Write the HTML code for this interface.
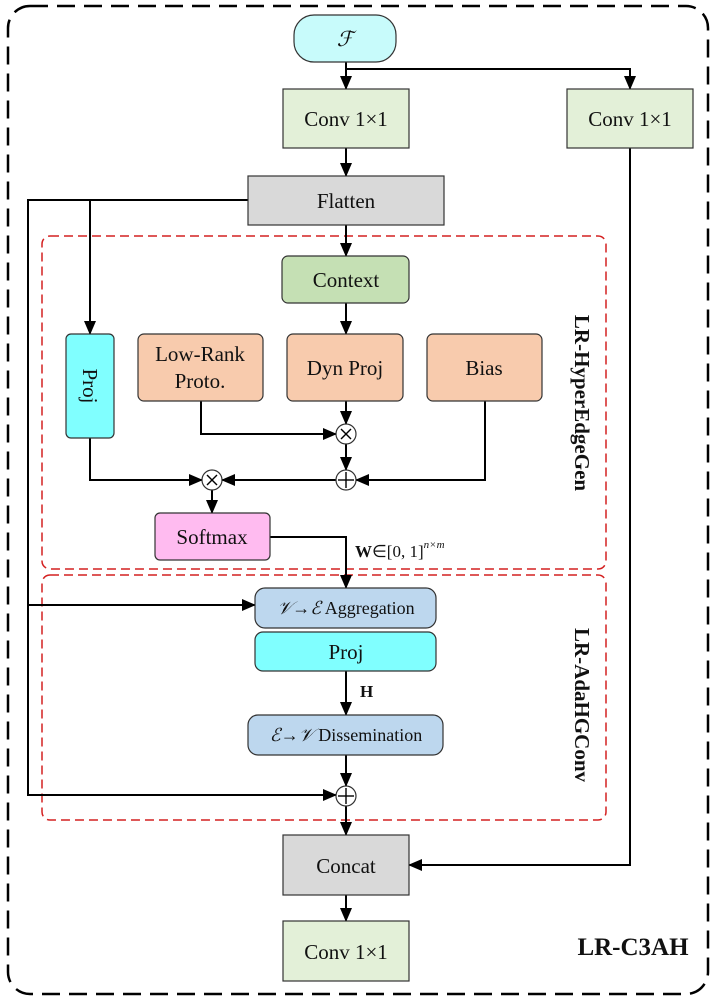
<!DOCTYPE html>
<html><head><meta charset="utf-8"><style>
html,body{margin:0;padding:0;background:#fff;}
svg{display:block;}
text{font-family:"Liberation Serif",serif;fill:#111;}
</style></head><body>
<svg width="715" height="1000" viewBox="0 0 715 1000" xmlns="http://www.w3.org/2000/svg">
<defs>
<marker id="a" markerWidth="14" markerHeight="12" refX="13" refY="6" orient="auto" markerUnits="userSpaceOnUse" viewBox="0 0 14 12">
<path d="M0,0 L14,6 L0,12 z" fill="#000"/></marker>
</defs>
<rect x="8" y="6" width="700" height="988" rx="22" fill="none" stroke="#000" stroke-width="2.5" stroke-dasharray="18,9"/>
<rect x="42" y="236" width="564" height="333" rx="8" fill="none" stroke="#d42020" stroke-width="1.5" stroke-dasharray="9,5"/>
<rect x="42" y="575" width="564" height="245" rx="8" fill="none" stroke="#d42020" stroke-width="1.5" stroke-dasharray="9,5"/>

<g stroke="#000" stroke-width="2" fill="none">
<line x1="346" y1="62" x2="346" y2="89" marker-end="url(#a)"/>
<polyline points="346,69 630,69 630,89" marker-end="url(#a)"/>
<line x1="346" y1="148" x2="346" y2="176" marker-end="url(#a)"/>
<line x1="346" y1="225" x2="346" y2="256" marker-end="url(#a)"/>
<line x1="346" y1="303" x2="346" y2="334" marker-end="url(#a)"/>
<polyline points="248,200 28,200 28,605 255,605" marker-end="url(#a)"/>
<polyline points="28,600 28,795 336,795" marker-end="url(#a)"/>
<line x1="90" y1="200" x2="90" y2="334" marker-end="url(#a)"/>
<line x1="346" y1="401" x2="346" y2="424" marker-end="url(#a)"/>
<polyline points="201,401 201,434 336,434" marker-end="url(#a)"/>
<line x1="346" y1="444" x2="346" y2="470" marker-end="url(#a)"/>
<polyline points="485,401 485,480 356,480" marker-end="url(#a)"/>
<line x1="336" y1="480" x2="222" y2="480" marker-end="url(#a)"/>
<polyline points="90,438 90,480 202,480" marker-end="url(#a)"/>
<line x1="212" y1="490" x2="212" y2="513" marker-end="url(#a)"/>
<polyline points="270,537 346,537 346,588" marker-end="url(#a)"/>
<line x1="346" y1="671" x2="346" y2="715" marker-end="url(#a)"/>
<line x1="346" y1="755" x2="346" y2="786" marker-end="url(#a)"/>
<line x1="346" y1="806" x2="346" y2="835" marker-end="url(#a)"/>
<polyline points="630,148 630,865 409,865" marker-end="url(#a)"/>
<line x1="346" y1="895" x2="346" y2="921" marker-end="url(#a)"/>
</g>

<g stroke="#333" stroke-width="1.2">
<rect x="294" y="15" width="102" height="47" rx="20" fill="#c8fbfb"/>
<rect x="283" y="89" width="126" height="59" fill="#e3f0d8"/>
<rect x="567" y="89" width="126" height="59" fill="#e3f0d8"/>
<rect x="248" y="176" width="196" height="49" fill="#d9d9d9"/>
<rect x="282" y="256" width="127" height="47" rx="6" fill="#c5e0b4"/>
<rect x="66" y="334" width="48" height="104" rx="5" fill="#80ffff"/>
<rect x="138" y="334" width="125" height="67" rx="6" fill="#f8cbad"/>
<rect x="287" y="334" width="116" height="67" rx="6" fill="#f8cbad"/>
<rect x="427" y="334" width="115" height="67" rx="6" fill="#f8cbad"/>
<rect x="155" y="513" width="115" height="47" rx="5" fill="#ffbbf0"/>
<rect x="255" y="588" width="181" height="40" rx="10" fill="#bdd7ee"/>
<rect x="255" y="632" width="181" height="39" rx="8" fill="#80ffff"/>
<rect x="248" y="715" width="195" height="40" rx="10" fill="#bdd7ee"/>
<rect x="283" y="835" width="126" height="60" fill="#d9d9d9"/>
<rect x="283" y="921" width="126" height="60" fill="#e3f0d8"/>
<circle cx="346" cy="434" r="10" fill="#fff"/>
<circle cx="346" cy="480" r="10" fill="#fff"/>
<circle cx="212" cy="480" r="10" fill="#fff"/>
<circle cx="346" cy="796" r="10" fill="#fff"/>
</g>
<g stroke="#000" stroke-width="1.4">
<line x1="341" y1="429" x2="351" y2="439"/><line x1="351" y1="429" x2="341" y2="439"/>
<line x1="207" y1="475" x2="217" y2="485"/><line x1="217" y1="475" x2="207" y2="485"/>
<line x1="338" y1="480" x2="354" y2="480"/><line x1="346" y1="472" x2="346" y2="488"/>
<line x1="338" y1="796" x2="354" y2="796"/><line x1="346" y1="788" x2="346" y2="804"/>
</g>

<g font-size="21" text-anchor="middle">
<text x="345" y="46" font-style="italic" font-size="21">ℱ</text>
<text x="346" y="126">Conv 1×1</text>
<text x="630" y="126">Conv 1×1</text>
<text x="346" y="208">Flatten</text>
<text x="346" y="287">Context</text>
<text x="200" y="361">Low-Rank</text>
<text x="200" y="388">Proto.</text>
<text x="345" y="375">Dyn Proj</text>
<text x="484" y="375">Bias</text>
<text x="212" y="544">Softmax</text>
<text x="346" y="659">Proj</text>
<text x="346" y="873">Concat</text>
<text x="346" y="959">Conv 1×1</text>
<text transform="translate(83,386) rotate(90)">Proj</text>
</g>
<g font-size="18" text-anchor="middle">
<text x="346" y="614"><tspan font-style="italic">𝒱</tspan>→<tspan font-style="italic">ℰ</tspan> Aggregation</text>
<text x="346" y="741"><tspan font-style="italic">ℰ</tspan>→<tspan font-style="italic">𝒱</tspan> Dissemination</text>
</g>
<text x="355" y="557" font-size="17"><tspan font-weight="bold">W</tspan>∈[0, 1]<tspan font-size="11" dy="-9" font-style="italic">n×m</tspan></text>
<text x="360" y="697" font-size="17" font-weight="bold">H</text>
<g font-size="21" font-weight="bold" text-anchor="middle">
<text transform="translate(575,403) rotate(90)">LR-HyperEdgeGen</text>
<text transform="translate(575,705) rotate(90)">LR-AdaHGConv</text>
<text x="633" y="955" font-size="25">LR-C3AH</text>
</g>
</svg>
</body></html>
